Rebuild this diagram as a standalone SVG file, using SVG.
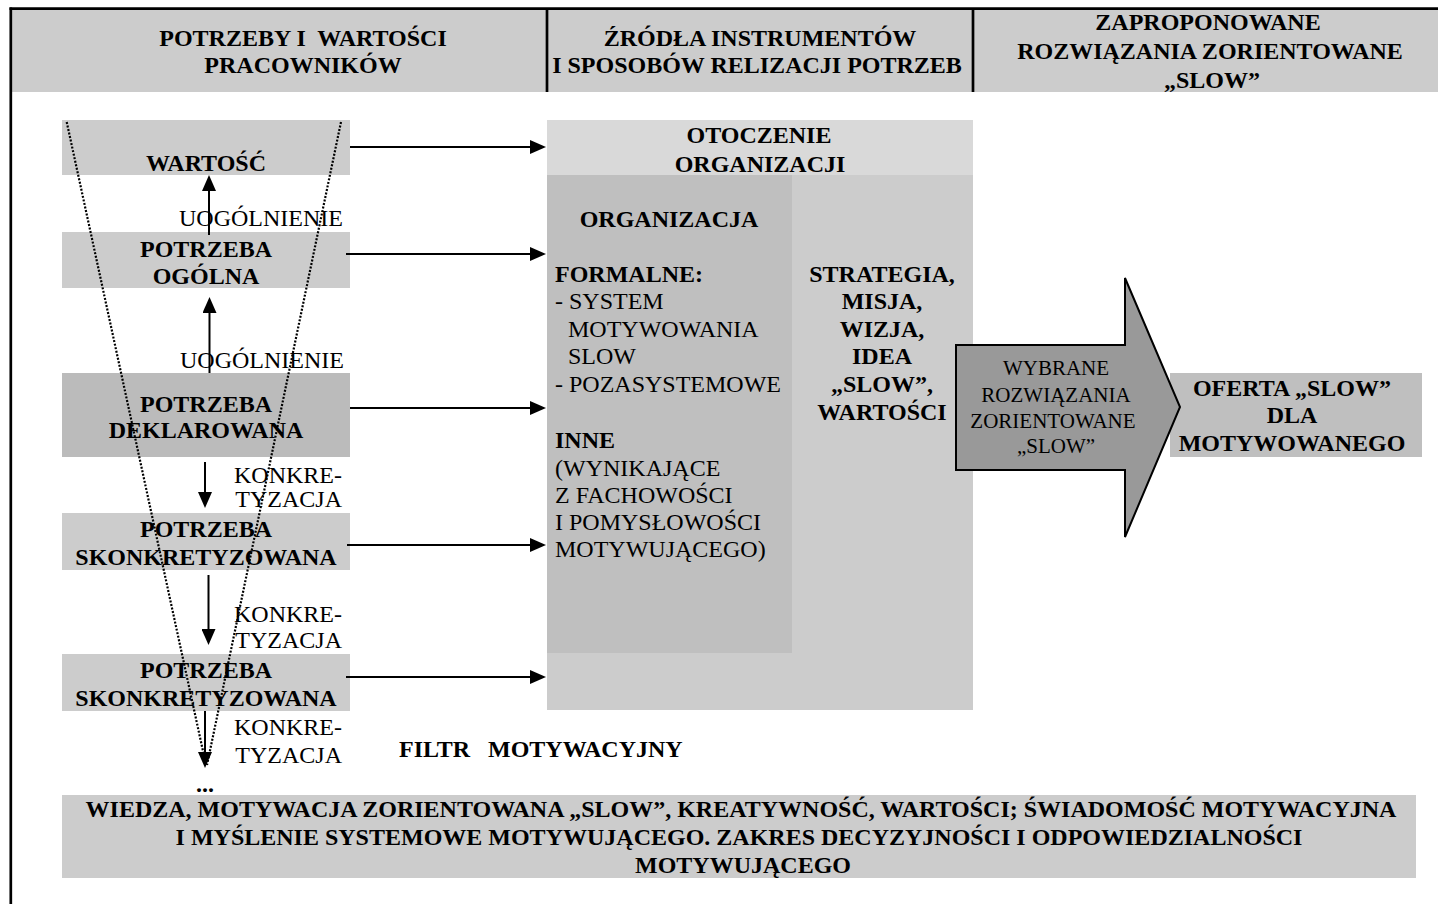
<svg xmlns="http://www.w3.org/2000/svg" width="1438" height="904" viewBox="0 0 1438 904">
<style>
text{font-family:"Liberation Serif","Times New Roman",serif;font-size:24px;fill:#000}
.b{font-weight:bold}
.c{text-anchor:middle}
.e{text-anchor:end}
.conn{stroke:#000;stroke-width:2;fill:none}
.dot{stroke:#000;stroke-width:2.2;stroke-dasharray:2 1.6;fill:none}
</style>
<defs>
<marker id="ah" viewBox="0 0 16 14" refX="8" refY="7" markerWidth="16" markerHeight="14" markerUnits="userSpaceOnUse" orient="auto">
<path d="M0,0 L16,7 L0,14 z" fill="#000"/>
</marker>
</defs>
<rect x="0" y="0" width="1438" height="904" fill="#fff"/>

<g id="header">
<rect x="12" y="10" width="1426" height="82" fill="#cccccc"/>
<line x1="9.5" y1="8.7" x2="1438" y2="8.7" stroke="#000" stroke-width="2.7"/>
<line x1="10.8" y1="7.4" x2="10.8" y2="904" stroke="#000" stroke-width="2.7"/>
<line x1="547" y1="10" x2="547" y2="92" stroke="#000" stroke-width="2.7"/>
<line x1="973" y1="10" x2="973" y2="92" stroke="#000" stroke-width="2.7"/>
<text class="b c" x="303" y="46" xml:space="preserve">POTRZEBY I  WARTOŚCI</text>
<text class="b c" x="303" y="73">PRACOWNIKÓW</text>
<text class="b c" x="760" y="46">ŹRÓDŁA INSTRUMENTÓW</text>
<text class="b c" x="757" y="73">I SPOSOBÓW RELIZACJI POTRZEB</text>
<text class="b c" x="1208" y="30">ZAPROPONOWANE</text>
<text class="b c" x="1210" y="59">ROZWIĄZANIA ZORIENTOWANE</text>
<text class="b c" x="1212" y="88">„SLOW”</text>
</g>

<g id="n-wartosc">
<rect x="62" y="120" width="288" height="55" fill="#cccccc"/>
<text class="b c" x="206" y="171">WARTOŚĆ</text>
</g>
<g id="n-ogolna">
<rect x="62" y="232" width="288" height="56" fill="#cccccc"/>
<text class="b c" x="206" y="257">POTRZEBA</text>
<text class="b c" x="206" y="284">OGÓLNA</text>
</g>
<g id="n-deklarowana">
<rect x="62" y="373" width="288" height="84" fill="#bbbbbb"/>
<text class="b c" x="206" y="412">POTRZEBA</text>
<text class="b c" x="206" y="438">DEKLAROWANA</text>
</g>
<g id="n-skonkretyzowana1">
<rect x="62" y="513" width="288" height="57" fill="#cccccc"/>
<text class="b c" x="206" y="537">POTRZEBA</text>
<text class="b c" x="206" y="565">SKONKRETYZOWANA</text>
</g>
<g id="n-skonkretyzowana2">
<rect x="62" y="654" width="288" height="57" fill="#cccccc"/>
<text class="b c" x="206" y="678">POTRZEBA</text>
<text class="b c" x="206" y="706">SKONKRETYZOWANA</text>
</g>
<g id="n-dots">
<text class="b c" x="205" y="792">...</text>
</g>

<g id="n-otoczenie">
<rect x="547" y="120" width="426" height="590" fill="#d9d9d9"/>
<rect x="547" y="175" width="426" height="535" fill="#cccccc"/>
<text class="b c" x="759" y="143">OTOCZENIE</text>
<text class="b c" x="760" y="172">ORGANIZACJI</text>
</g>
<g id="n-organizacja">
<rect x="547" y="175" width="245" height="478" fill="#bfbfbf"/>
<text class="b c" x="669" y="227">ORGANIZACJA</text>
<text class="b" x="555" y="282">FORMALNE:</text>
<text x="555" y="309">- SYSTEM</text>
<text x="568" y="337">MOTYWOWANIA</text>
<text x="568" y="364">SLOW</text>
<text x="555" y="392">- POZASYSTEMOWE</text>
<text class="b" x="555" y="448">INNE</text>
<text x="555" y="476">(WYNIKAJĄCE</text>
<text x="555" y="503">Z FACHOWOŚCI</text>
<text x="555" y="530">I POMYSŁOWOŚCI</text>
<text x="555" y="557">MOTYWUJĄCEGO)</text>
</g>
<g id="n-strategia">
<text class="b c" x="882" y="282">STRATEGIA,</text>
<text class="b c" x="882" y="309">MISJA,</text>
<text class="b c" x="882" y="337">WIZJA,</text>
<text class="b c" x="882" y="364">IDEA</text>
<text class="b c" x="882" y="392">„SLOW”,</text>
<text class="b c" x="882" y="420">WARTOŚCI</text>
</g>

<g id="n-oferta">
<rect x="1170" y="373" width="252" height="84" fill="#bfbfbf"/>
<text class="b c" x="1292" y="396">OFERTA „SLOW”</text>
<text class="b c" x="1292" y="423">DLA</text>
<text class="b c" x="1292" y="451">MOTYWOWANEGO</text>
</g>
<g id="n-wybrane">
<polygon points="956,345 1125,345 1125,278 1180,407 1125,537 1125,470 956,470" fill="#999999" stroke="#000" stroke-width="2"/>
<text class="c" x="1056" y="375" style="font-size:21px">WYBRANE</text>
<text class="c" x="1056" y="402" style="font-size:21px">ROZWIĄZANIA</text>
<text class="c" x="1053" y="428" style="font-size:21px">ZORIENTOWANE</text>
<text class="c" x="1056" y="453" style="font-size:21px">„SLOW”</text>
</g>

<g id="n-filtr">
<text class="b" x="399" y="757">FILTR</text>
<text class="b" x="488" y="757">MOTYWACYJNY</text>
</g>

<g id="n-wiedza">
<rect x="62" y="795" width="1354" height="83" fill="#cccccc"/>
<text class="b c" x="741" y="817">WIEDZA, MOTYWACJA ZORIENTOWANA „SLOW”, KREATYWNOŚĆ, WARTOŚCI; ŚWIADOMOŚĆ MOTYWACYJNA</text>
<text class="b c" x="739" y="845">I MYŚLENIE SYSTEMOWE MOTYWUJĄCEGO. ZAKRES DECYZYJNOŚCI I ODPOWIEDZIALNOŚCI</text>
<text class="b c" x="743" y="873">MOTYWUJĄCEGO</text>
</g>

<g id="connectors">
<line class="dot" x1="66.7" y1="122" x2="206" y2="765"/>
<line class="dot" x1="341" y1="122" x2="207" y2="765"/>
<line class="conn" x1="209" y1="235" x2="209" y2="183" marker-end="url(#ah)"/>
<line class="conn" x1="209.5" y1="373" x2="209.5" y2="305" marker-end="url(#ah)"/>
<line class="conn" x1="205" y1="462" x2="205" y2="500" marker-end="url(#ah)"/>
<line class="conn" x1="208.5" y1="575" x2="208.5" y2="637" marker-end="url(#ah)"/>
<line class="conn" x1="205" y1="711" x2="205" y2="760" marker-end="url(#ah)"/>
<line class="conn" x1="350" y1="147" x2="538" y2="147" marker-end="url(#ah)"/>
<line class="conn" x1="346" y1="254" x2="538" y2="254" marker-end="url(#ah)"/>
<line class="conn" x1="350" y1="408" x2="538" y2="408" marker-end="url(#ah)"/>
<line class="conn" x1="347" y1="545" x2="538" y2="545" marker-end="url(#ah)"/>
<line class="conn" x1="346" y1="677" x2="538" y2="677" marker-end="url(#ah)"/>
</g>

<g id="labels">
<text x="179" y="226">UOGÓLNIENIE</text>
<text x="180" y="368">UOGÓLNIENIE</text>
<text class="e" x="342" y="483">KONKRE-</text>
<text class="e" x="342" y="507">TYZACJA</text>
<text class="e" x="342" y="622">KONKRE-</text>
<text class="e" x="342" y="648">TYZACJA</text>
<text class="e" x="342" y="735">KONKRE-</text>
<text class="e" x="342" y="763">TYZACJA</text>
</g>
</svg>
